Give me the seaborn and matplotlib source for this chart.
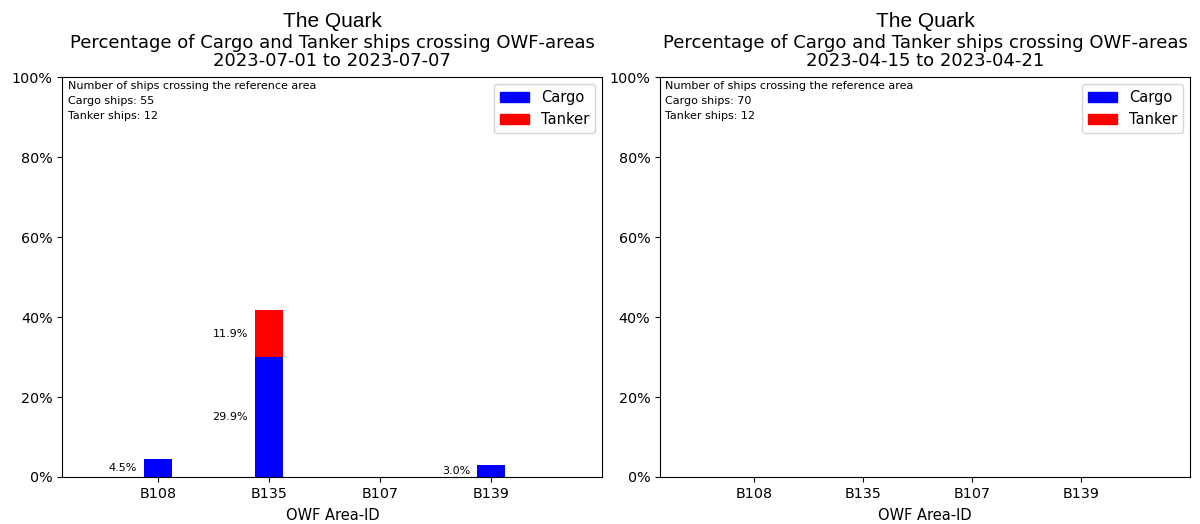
import matplotlib
matplotlib.use("Agg")
import matplotlib.pyplot as plt
import matplotlib.patches as mpatches
from matplotlib.ticker import PercentFormatter
import seaborn as sns
import pandas as pd

areas = ["B108", "B135", "B107", "B139"]
cargo_left = [4.5, 29.9, 0.0, 3.0]
tanker_left = [0.0, 11.9, 0.0, 0.0]
cargo_right = [0.0, 0.0, 0.0, 0.0]
tanker_right = [0.0, 0.0, 0.0, 0.0]
periods = ["2023-07-01 to 2023-07-07", "2023-04-15 to 2023-04-21"]
cargo_counts = [55, 70]
tanker_counts = [12, 12]

sns.reset_orig()
plt.rcParams["font.family"] = ["DejaVu Sans"]

fig = plt.figure(figsize=(12, 5.24), dpi=100)
ax1 = fig.add_axes([0.052, 0.0897, 0.450, 0.7633])
ax2 = fig.add_axes([0.550, 0.0897, 0.442, 0.7633])

for ax, cargo, tanker, period, nc, nt in [
    (ax1, cargo_left, tanker_left, periods[0], cargo_counts[0], tanker_counts[0]),
    (ax2, cargo_right, tanker_right, periods[1], cargo_counts[1], tanker_counts[1]),
]:
    df = pd.DataFrame({"area": areas,
                       "cargo": [c / 100 for c in cargo],
                       "total": [(c + t) / 100 for c, t in zip(cargo, tanker)]})
    sns.barplot(data=df, x="area", y="total", color="red", saturation=1,
                width=0.25, linewidth=0, ax=ax, order=areas)
    sns.barplot(data=df, x="area", y="cargo", color="blue", saturation=1,
                width=0.25, linewidth=0, ax=ax, order=areas)
    for i, (c, t) in enumerate(zip(cargo, tanker)):
        if c > 0:
            ax.annotate(f"{c:.1f}%", xy=(i - 0.125, c / 200), xytext=(-5, 0),
                        textcoords="offset points", ha="right", va="center",
                        fontsize=8)
        if t > 0:
            ax.annotate(f"{t:.1f}%", xy=(i - 0.125, (c + t / 2) / 100), xytext=(-5, 0),
                        textcoords="offset points", ha="right", va="center",
                        fontsize=8)
    ax.set_ylim(0, 1)
    ax.set_yticks([0, 0.2, 0.4, 0.6, 0.8, 1.0])
    ax.yaxis.set_major_formatter(PercentFormatter(1.0, decimals=0))
    ax.set_xlim(-0.86, 4.0)
    ax.set_xlabel("OWF Area-ID", fontsize=10.5, labelpad=5)
    ax.set_ylabel("")
    ax.tick_params(labelsize=10.3)
    ax.set_title("Percentage of Cargo and Tanker ships crossing OWF-areas\n" + period,
                 fontsize=13, pad=8, linespacing=0.98)
    ax.text(0.5, 1.14, "The Quark", transform=ax.transAxes, ha="center", va="center",
            fontsize=15, family="Liberation Sans")
    ax.text(0.01, 0.99, f"Number of ships crossing the reference area\nCargo ships: {nc}\nTanker ships: {nt}",
            transform=ax.transAxes, ha="left", va="top", fontsize=8, linespacing=1.6)
    handles = [mpatches.Patch(color="blue", label="Cargo"),
               mpatches.Patch(color="red", label="Tanker")]
    ax.legend(handles=handles, loc="upper right", fontsize=10.5)

fig.savefig("out.png", dpi=100)
